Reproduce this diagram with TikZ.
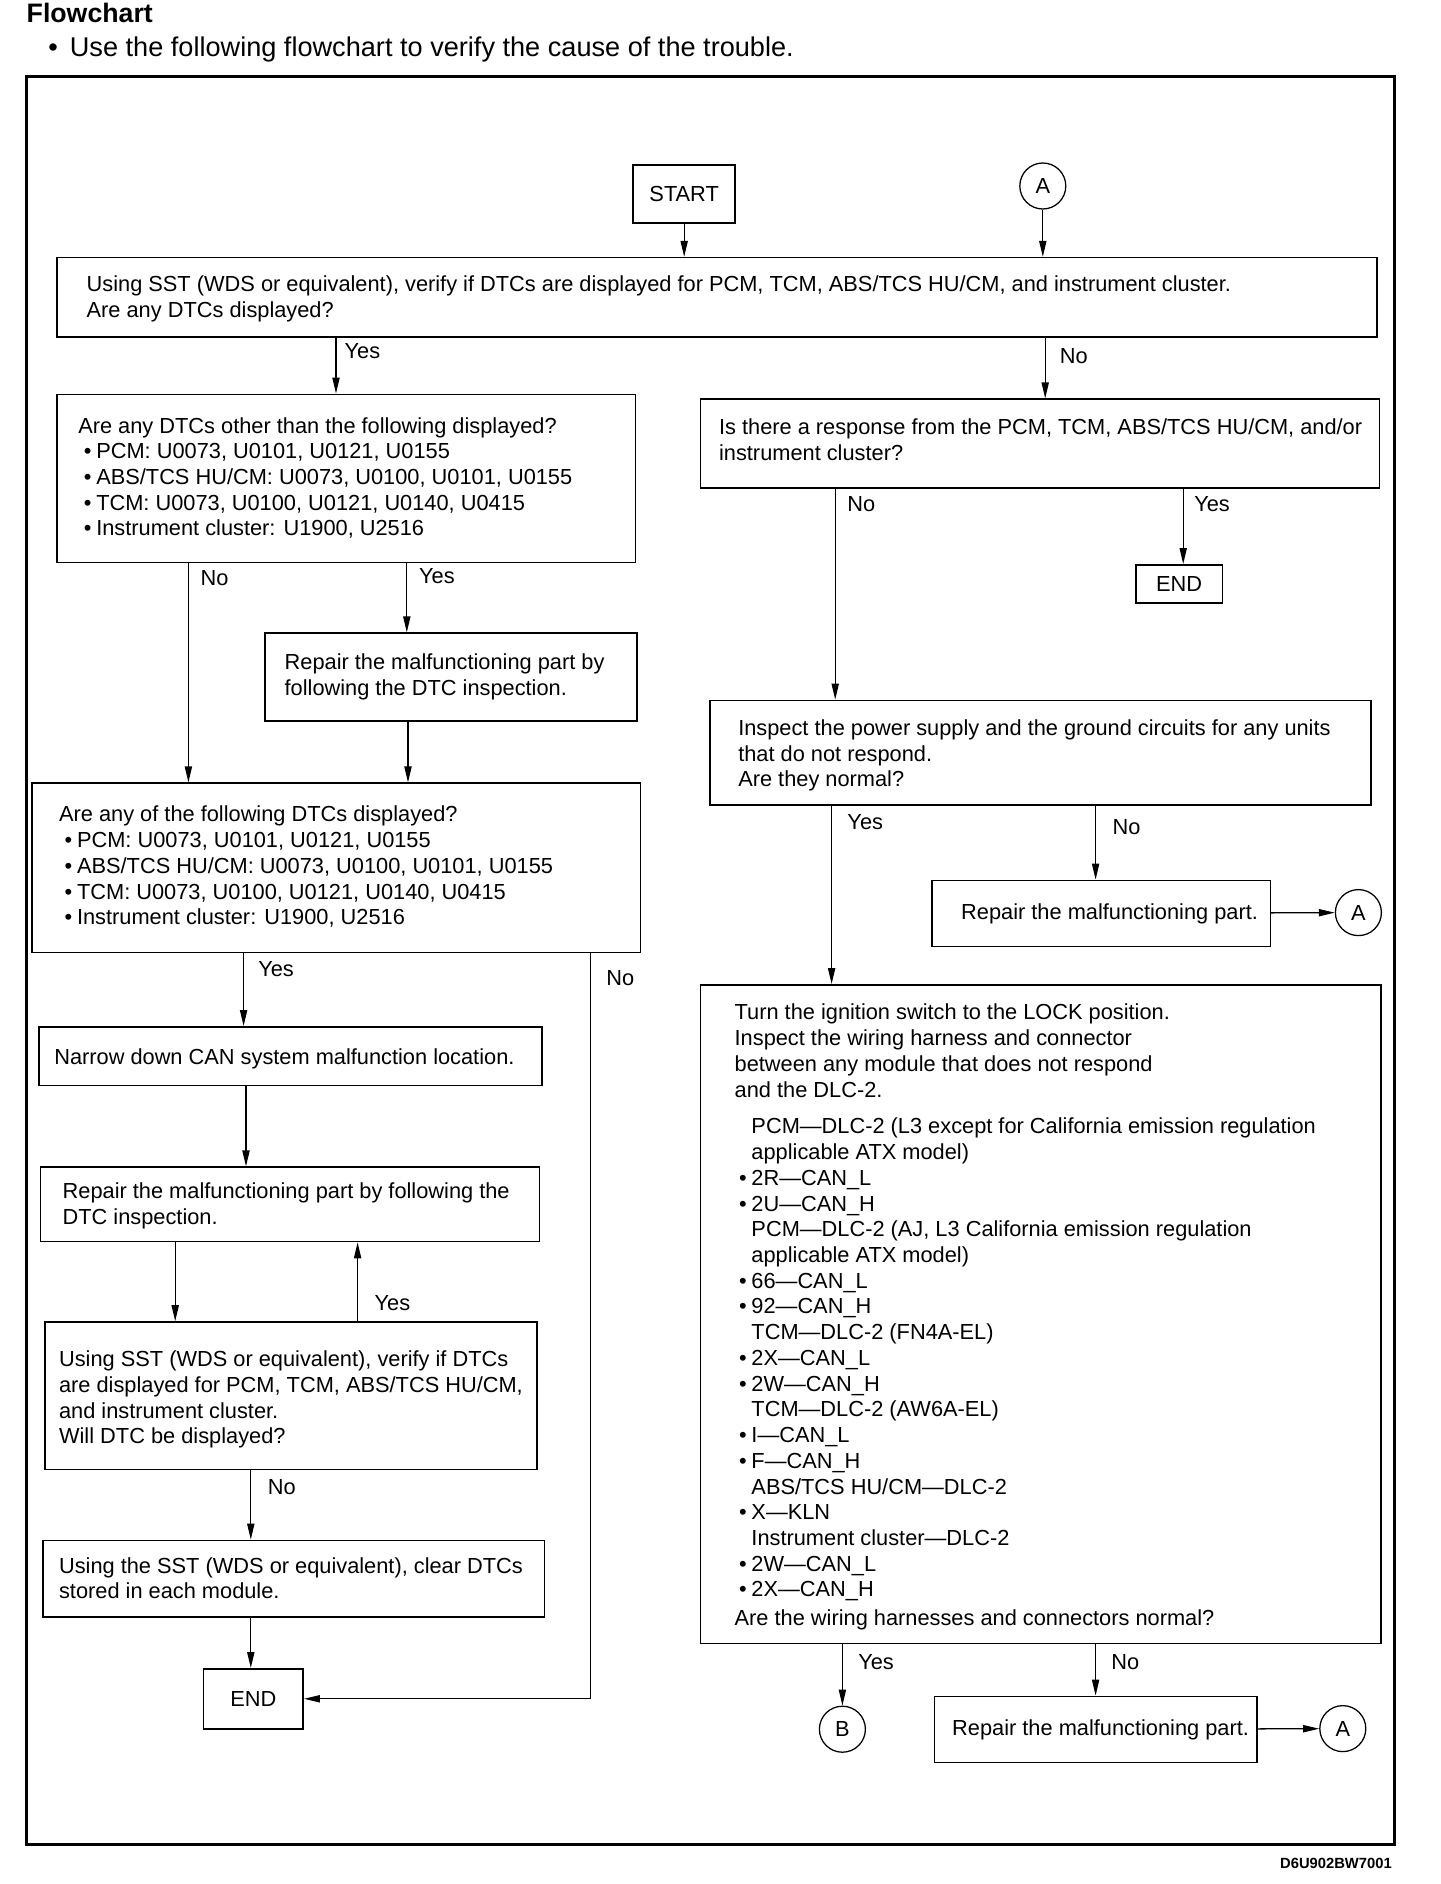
\documentclass[tikz,border=0pt]{standalone}
\usepackage{fontspec}
\setmainfont{Liberation Sans}
\usetikzlibrary{arrows.meta}
\newcommand\fs{\fontsize{15.5pt}{18.3pt}\selectfont}
\newcommand\bul[1]{\hspace*{#1}\llap{•\hspace{0.12cm}}}
\newcommand\mybox[6]{\node[box, minimum width={(#4-#2)*0.030cm}, minimum height={(#5-#3)*0.030cm}] (#1) at (#2,#3) {#6};}
\begin{document}
\begin{tikzpicture}[x=0.030cm,y=-0.030cm,
  box/.style={draw, line width=1.1pt, inner sep=0pt, anchor=north west, font=\fs},
  txt/.style={anchor=north west, inner sep=0pt, align=left, font=\fs},
  lbl/.style={anchor=base west, inner sep=0pt, font=\fs},
  arr/.style={line width=0.9pt, -{Triangle[length=0.4cm,width=0.18cm]}},
  circ/.style={draw, circle, line width=0.9pt, minimum size=1.15cm, inner sep=0pt, font=\fs}]
\useasboundingbox (0,0) rectangle (1200,1570);
% header
\node[anchor=base west, inner sep=0pt, font=\bfseries\fontsize{19pt}{22pt}\selectfont] (title) at (22,19) {Flowchart};
\node[anchor=base west, inner sep=0pt, font=\fontsize{19.3pt}{22pt}\selectfont] (intro) at (40,47) {\makebox[0.54cm][l]{•}Use the following flowchart to verify the cause of the trouble.};
\draw[line width=2pt] (22,64) rectangle (1162,1537);
\node[anchor=base east, inner sep=0pt, font=\bfseries\fontsize{10.5pt}{12pt}\selectfont] (code) at (1160,1557) {D6U902BW7001};

% top
\mybox{start}{527}{137}{612}{185}{START}
\node[circ] (a1) at (869,155) {A};
\mybox{b1}{47}{214}{1147}{280}{}
\node[txt] (t1) at (72,229.5) {Using SST (WDS or equivalent), verify if DTCs are displayed for PCM, TCM, ABS/TCS HU/CM, and instrument cluster.\\Are any DTCs displayed?};
\draw[arr] (start) -- (b1.north -| start);
\draw[arr] (a1) -- (b1.north -| a1);

% left column
\mybox{b2}{47}{328}{529}{468}{}
\node[txt] (t2) at (65,347.5) {Are any DTCs other than the following displayed?\\
\bul{0.45cm}PCM: U0073, U0101, U0121, U0155\\
\bul{0.45cm}ABS/TCS HU/CM: U0073, U0100, U0101, U0155\\
\bul{0.45cm}TCM: U0073, U0100, U0121, U0140, U0415\\
\bul{0.45cm}Instrument cluster: U1900, U2516};
\draw[arr] (b1.south -| 280,0) -- (b2.north -| 280,0);
\node[lbl] (y1) at (287,299) {Yes};

\mybox{rp1}{220}{527}{530}{600}{}
\node[txt] (trp1) at (237,544.5) {Repair the malfunctioning part by\\following the DTC inspection.};

\mybox{b3}{26}{652}{533}{793}{}
\node[txt] (t3) at (49,671.5) {Are any of the following DTCs displayed?\\
\bul{0.45cm}PCM: U0073, U0101, U0121, U0155\\
\bul{0.45cm}ABS/TCS HU/CM: U0073, U0100, U0101, U0155\\
\bul{0.45cm}TCM: U0073, U0100, U0121, U0140, U0415\\
\bul{0.45cm}Instrument cluster: U1900, U2516};
\draw[arr] (b2.south -| 157,0) -- (b3.north -| 157,0);
\node[lbl] (n2) at (167,488) {No};
\draw[arr] (b2.south -| 339,0) -- (rp1.north -| 339,0);
\node[lbl] (y2) at (349,486) {Yes};
\draw[arr] (rp1.south -| 340,0) -- (b3.north -| 340,0);

\mybox{nar}{32}{855}{451}{904}{}
\node[txt] (tnar) at (45,873.5) {Narrow down CAN system malfunction location.};
\draw[arr] (b3.south -| 203,0) -- (nar.north -| 203,0);
\node[lbl] (y3) at (215,814) {Yes};

\mybox{rp2}{33}{972}{449}{1034}{}
\node[txt] (trp2) at (52,985.5) {Repair the malfunctioning part by following the\\DTC inspection.};
\draw[arr] (nar.south -| 205,0) -- (rp2.north -| 205,0);

\mybox{b4}{37}{1101}{447}{1224}{}
\node[txt] (t4) at (49,1125.5) {Using SST (WDS or equivalent), verify if DTCs\\are displayed for PCM, TCM, ABS/TCS HU/CM,\\and instrument cluster.\\Will DTC be displayed?};
\draw[arr] (rp2.south -| 146,0) -- (b4.north -| 146,0);
\draw[arr] (b4.north -| 298,0) -- (rp2.south -| 298,0);
\node[lbl] (y4) at (312,1092) {Yes};

\mybox{b5}{35}{1283}{453}{1347}{}
\node[txt] (t5) at (49,1297.5) {Using the SST (WDS or equivalent), clear DTCs\\stored in each module.};
\draw[arr] (b4.south -| 209,0) -- (b5.north -| 209,0);
\node[lbl] (n4) at (223,1245) {No};

\mybox{end1}{169}{1390}{252}{1440}{END}
\draw[arr] (b5.south -| 209,0) -- (end1.north -| 209,0);
\draw[arr] (b3.south -| 492,0) |- (end1.east);
\node[lbl] (n3) at (505,821) {No};

% right column
\mybox{r1}{583}{332}{1149}{406}{}
\node[txt] (tr1) at (599,348.5) {Is there a response from the PCM, TCM, ABS/TCS HU/CM, and/or\\instrument cluster?};
\draw[arr] (b1.south -| 871,0) -- (r1.north -| 871,0);
\node[lbl] (n1) at (883,303) {No};

\mybox{end2}{946}{470}{1018}{502}{END}
\draw[arr] (r1.south -| 986,0) -- (end2.north -| 986,0);
\node[lbl] (y5) at (995,426) {Yes};

\mybox{r2}{591}{583}{1142}{670}{}
\node[txt] (tr2) at (615,599.5) {Inspect the power supply and the ground circuits for any units\\that do not respond.\\Are they normal?};
\draw[arr] (r1.south -| 696,0) -- (r2.north -| 696,0);
\node[lbl] (n5) at (706,426) {No};

\mybox{rr1}{776}{733}{1058}{788}{\hspace{0.42cm}Repair the malfunctioning part.}
\node[circ] (ca2) at (1132,760.5) {A};
\draw[arr] (r2.south -| 913,0) -- (rr1.north -| 913,0);
\node[lbl] (n6) at (927,695) {No};
\draw[arr] (rr1) -- (ca2);

\mybox{r3}{583}{820}{1150}{1369}{}
\node[txt] (tr3a) at (612,836.5) {Turn the ignition switch to the LOCK position.\\Inspect the wiring harness and connector\\between any module that does not respond\\and the DLC-2.};
\node[txt] (tr3b) at (626,931.5) {PCM—DLC-2 (L3 except for California emission regulation\\
applicable ATX model)\\
\llap{•\hspace{0.12cm}}2R—CAN\_L\\
\llap{•\hspace{0.12cm}}2U—CAN\_H\\
PCM—DLC-2 (AJ, L3 California emission regulation\\
applicable ATX model)\\
\llap{•\hspace{0.12cm}}66—CAN\_L\\
\llap{•\hspace{0.12cm}}92—CAN\_H\\
TCM—DLC-2 (FN4A-EL)\\
\llap{•\hspace{0.12cm}}2X—CAN\_L\\
\llap{•\hspace{0.12cm}}2W—CAN\_H\\
TCM—DLC-2 (AW6A-EL)\\
\llap{•\hspace{0.12cm}}I—CAN\_L\\
\llap{•\hspace{0.12cm}}F—CAN\_H\\
ABS/TCS HU/CM—DLC-2\\
\llap{•\hspace{0.12cm}}X—KLN\\
Instrument cluster—DLC-2\\
\llap{•\hspace{0.12cm}}2W—CAN\_L\\
\llap{•\hspace{0.12cm}}2X—CAN\_H};
\node[txt] (tr3c) at (612,1341.5) {Are the wiring harnesses and connectors normal?};
\draw[arr] (r2.south -| 693,0) -- (r3.north -| 693,0);
\node[lbl] (y6) at (706,691) {Yes};

\node[circ] (cb) at (702,1441) {B};
\draw[arr] (r3.south -| cb) -- (cb);
\node[lbl] (y7) at (715,1391) {Yes};

\mybox{rr2}{778}{1413}{1047}{1468}{\hspace{0.24cm}Repair the malfunctioning part.}
\node[circ] (ca3) at (1119,1440.5) {A};
\draw[arr] (r3.south -| 913,0) -- (rr2.north -| 913,0);
\node[lbl] (n7) at (926,1391) {No};
\draw[arr] (rr2) -- (ca3);
\end{tikzpicture}
\end{document}
